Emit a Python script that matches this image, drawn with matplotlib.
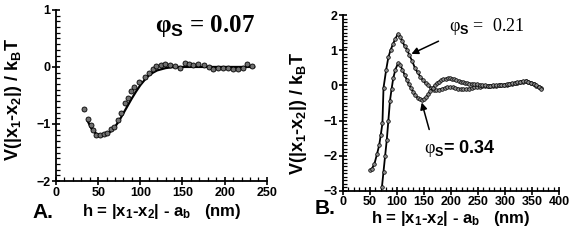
import numpy as np
import matplotlib
matplotlib.use("Agg")
import matplotlib.pyplot as plt
from matplotlib.ticker import MultipleLocator

plt.rcParams['font.family'] = ['Liberation Sans', 'DejaVu Sans']
plt.rcParams['mathtext.fontset'] = 'custom'
plt.rcParams['mathtext.rm'] = 'Liberation Sans:bold'
plt.rcParams['mathtext.it'] = 'Liberation Sans:bold'
plt.rcParams['mathtext.bf'] = 'Liberation Sans:bold'

# --- panel A: phi_S = 0.07 ---
h_a_pts = [33, 38, 42, 44, 47, 52, 57, 61, 65, 69, 73, 77, 82, 85, 88.5, 93, 99, 105, 110,
           115, 119, 124, 129, 135, 141, 147, 153, 158, 163, 169, 175, 181, 186, 192, 198,
           204, 210, 216, 222, 227, 232]
v_a_pts = [-0.74, -0.91, -1.02, -1.1, -1.19, -1.19, -1.18, -1.16, -1.08, -1.06, -0.93, -0.81,
           -0.64, -0.55, -0.43, -0.36, -0.26, -0.17, -0.10, -0.035, 0.02, 0.035, 0.05, 0.03,
           0.01, -0.01, 0.075, 0.05, 0.035, 0.05, 0.035, 0.005, -0.04, -0.02, -0.01, -0.02,
           -0.035, -0.035, -0.01, 0.05, 0.02]
h_a_fit = [38, 42, 46, 50, 55, 60, 65, 70, 75, 80, 85, 90, 95, 100, 105, 110, 115, 120, 125,
           130, 135, 140, 150, 160, 180, 200, 220, 235]
v_a_fit = [-0.96, -1.08, -1.15, -1.19, -1.2, -1.18, -1.13, -1.05, -0.94, -0.81, -0.68, -0.55,
           -0.43, -0.32, -0.23, -0.15, -0.10, -0.06, -0.04, -0.02, -0.01, 0, 0, 0, 0, 0, 0, 0]

# --- panel B: phi_S = 0.21 and 0.34 ---
h_021 = [50, 53, 58, 63, 67, 70, 73, 75, 80, 84, 88, 93, 97, 102, 106, 110, 114, 119, 123, 128,
         133, 138, 143, 148, 153, 158, 163, 168, 173, 178, 183, 188, 193, 198, 203, 208, 213,
         218, 223, 228, 233, 238, 243, 248, 253, 258, 263, 268, 273, 278, 283, 288, 293, 298,
         303, 308, 313, 318, 323, 328, 333, 338, 343, 348, 353, 358, 363, 366]
v_021 = [-2.40, -2.38, -2.24, -1.95, -1.70, -1.40, -1.08, -0.07, 0.45, 0.80,
         1.00, 1.19, 1.33, 1.47, 1.38, 1.25, 1.12, 1.01, 0.85, 0.70,
         0.50, 0.37, 0.25, 0.15, 0.06, 0.00, -0.08, -0.12, -0.13, -0.12,
         -0.10, -0.08, -0.06, -0.05, -0.05, -0.07, -0.09, -0.10, -0.11, -0.10,
         -0.09, -0.08, -0.06, -0.05, -0.04, -0.03, -0.02, -0.02, -0.01, -0.02,
         -0.01, 0.00, 0.00, 0.01, 0.02, 0.03, 0.05, 0.06, 0.08, 0.10,
         0.11, 0.12, 0.10, 0.07, 0.03, -0.01, -0.05, -0.08]
h_034 = [72, 75, 78, 81, 84, 87, 90, 93, 97, 102, 106, 110, 114, 118, 122, 126, 130, 134, 138,
         142, 146, 150, 154, 158, 162, 166, 170, 174, 178, 182, 186, 190, 194, 198, 202, 206,
         210, 214, 218, 222, 226, 230, 234, 238, 243, 248, 253, 258, 263, 268, 273, 278, 283,
         288, 293, 298, 303, 308, 313, 318, 323, 328, 333, 338, 343, 348, 353, 358, 363, 366]
v_034 = [-2.90, -2.45, -2.00, -1.56, -1.00, -0.43, -0.10, 0.20, 0.45, 0.63,
         0.57, 0.45, 0.30, 0.16, 0.03, -0.08, -0.18, -0.28, -0.35, -0.40,
         -0.42, -0.40, -0.34, -0.25, -0.16, -0.08, 0.00, 0.06, 0.11, 0.15,
         0.17, 0.19, 0.20, 0.20, 0.19, 0.17, 0.15, 0.13, 0.11, 0.09,
         0.07, 0.06, 0.05, 0.05, 0.04, 0.04, 0.02, 0.01, 0.00, -0.01,
         -0.01, 0.00, 0.00, 0.01, 0.01, 0.02, 0.03, 0.04, 0.06, 0.07,
         0.09, 0.10, 0.12, 0.13, 0.11, 0.08, 0.04, 0.00, -0.04, -0.09]

ylabel = r'V(|x$_1$-x$_2$|) / k$_B$T'
xlabel = r'h = |x$_1$-x$_2$| - a$_b$   (nm)'


def style_axes(ax, xmax, xstep, ymin, ymax):
    ax.set_xlim(0, xmax)
    ax.set_ylim(ymin, ymax)
    ax.xaxis.set_major_locator(MultipleLocator(xstep))
    ax.xaxis.set_minor_locator(MultipleLocator(10))
    ax.yaxis.set_major_locator(MultipleLocator(1))
    ax.yaxis.set_minor_locator(MultipleLocator(0.1))
    for s in ['top', 'right']:
        ax.spines[s].set_visible(False)
    for s in ['left', 'bottom']:
        ax.spines[s].set_linewidth(1.3)
    ax.tick_params(which='major', direction='inout', length=6, width=1.2,
                   labelsize=9, pad=1)
    ax.tick_params(which='minor', direction='in', length=3, width=0.9)
    for lab in ax.get_xticklabels() + ax.get_yticklabels():
        lab.set_fontweight('bold')


fig = plt.figure(figsize=(5.76, 2.42), dpi=100)

# panel A
axA = fig.add_axes([0.0972, 0.252, 0.366, 0.707])
axA.plot(h_a_fit, v_a_fit, color='black', lw=1.6, zorder=2)
axA.plot(h_a_pts, v_a_pts, ls='none', marker='o', ms=3.6, mfc='#707070',
         mec='black', mew=0.6, zorder=3)
style_axes(axA, 250, 50, -2, 1)
axA.text(118, 0.72, 'φ$_S$ = 0.07', family='Liberation Serif', fontweight='bold',
         fontsize=18, ha='left', va='center')

# panel B
axB = fig.add_axes([0.5955, 0.211, 0.375, 0.727])
for hh, vv in [(h_021, v_021), (h_034, v_034)]:
    axB.plot(hh, vv, color='black', lw=1.3, marker='o', ms=2.6, mfc='#8a8a8a',
             mec='black', mew=0.5, clip_on=False)
style_axes(axB, 400, 50, -3, 2)

axB.text(196, 1.66, 'φ$_S$ =  0.21', family='Liberation Serif', fontsize=13,
         ha='left', va='center')
axB.annotate('', xy=(122, 0.86), xytext=(181.5, 1.29),
             arrowprops=dict(arrowstyle='-|>', color='black', lw=1.1,
                             mutation_scale=10))
axB.text(150, -1.78, 'φ', family='Liberation Serif', fontsize=13,
         ha='left', va='center')
axB.text(169, -1.78, '$_S$= 0.34', fontweight='bold', fontsize=13,
         ha='left', va='center')
axB.annotate('', xy=(144.4, -0.41), xytext=(161, -1.33),
             arrowprops=dict(arrowstyle='-|>', color='black', lw=1.1,
                             mutation_scale=10))

# labels
fig.text(0.024, 0.59, ylabel, rotation=90, fontsize=13, fontweight='bold',
         ha='center', va='center')
fig.text(0.518, 0.53, ylabel, rotation=90, fontsize=13, fontweight='bold',
         ha='center', va='center')
fig.text(0.28, 0.128, xlabel, fontsize=12, fontweight='bold', ha='center', va='center')
fig.text(0.783, 0.098, xlabel, fontsize=12, fontweight='bold', ha='center', va='center')
fig.text(0.056, 0.122, 'A.', fontsize=15, fontweight='bold', ha='left', va='center')
fig.text(0.547, 0.14, 'B.', fontsize=15, fontweight='bold', ha='left', va='center')

fig.savefig('out.png', dpi=100)
